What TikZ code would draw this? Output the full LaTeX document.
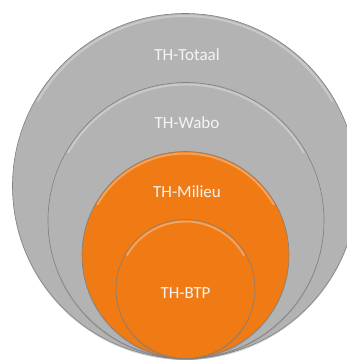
\documentclass[tikz,border=0pt]{standalone}
\usepackage{fontspec}
\setmainfont{Carlito}
\usetikzlibrary{shadows}
\definecolor{ringgray}{HTML}{B3B3B3}
\definecolor{ringorange}{HTML}{F07A14}
\definecolor{labelwhite}{HTML}{F4F4F4}
\tikzset{
  ring/.style={circle, inner sep=0pt, outer sep=0pt, minimum size=#1,
    draw=black!50, line width=0.6pt,
    drop shadow={opacity=0.35, shadow xshift=0pt, shadow yshift=-1.5pt}},
  ringlabel/.style={text=labelwhite, font=\fontsize{17}{19}\selectfont},
  gloss/.style={white, opacity=0.3, line width=2pt, line cap=round},
}
\begin{document}
\begin{tikzpicture}[x=1pt, y=1pt]
    \useasboundingbox (0,0) rectangle (347,360);
    % Rings
    \node (totaal) [ring=345pt, fill=ringgray] at (185,174) {};
    \node (wabo) [ring=276pt, fill=ringgray] at (186,139.5) {};
    \node (milieu) [ring=207pt, fill=ringorange] at (185.5,105) {};
    \node (btp) [ring=139pt, fill=ringorange] at (185.5,71) {};

    % Gloss on the upper rims
    \draw[gloss] (totaal.center) ++(150:170pt) arc[start angle=150, end angle=30, radius=170pt];
    \draw[gloss] (wabo.center) ++(150:136pt) arc[start angle=150, end angle=30, radius=136pt];
    \draw[gloss] (milieu.center) ++(150:101.5pt) arc[start angle=150, end angle=30, radius=101.5pt];
    \draw[gloss] (btp.center) ++(150:67.5pt) arc[start angle=150, end angle=30, radius=67.5pt];

    % Labels
    \node (totaallabel) [ringlabel] at (187,305) {TH-Totaal};
    \node (wabolabel) [ringlabel] at (187,237) {TH-Wabo};
    \node (milieulabel) [ringlabel] at (187,168) {TH-Milieu};
    \node (btplabel) [ringlabel] at (185.5,67) {TH-BTP};
\end{tikzpicture}
\end{document}
